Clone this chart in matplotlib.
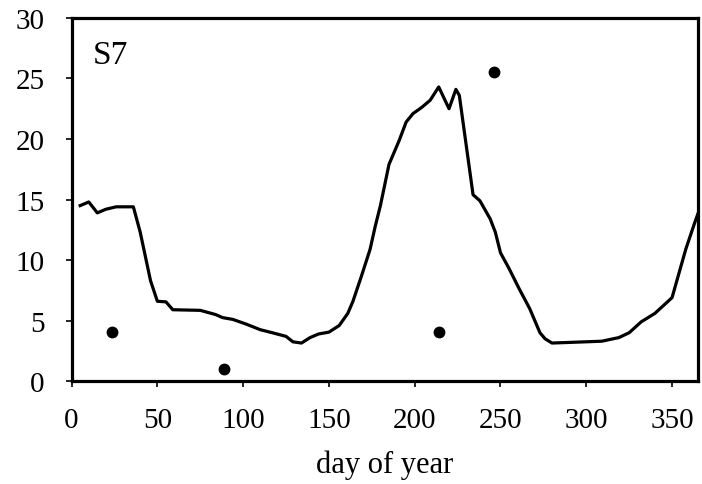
import matplotlib
matplotlib.use('Agg')
from matplotlib import pyplot as plt

# line: day of year vs value
days = [5, 10, 15, 20, 26, 36, 40, 46, 50, 55, 59, 75, 84, 88, 94, 102, 110, 117,
        125, 129, 134, 139, 144, 150, 156, 161, 164, 169, 174, 177, 180, 185, 191,
        195, 199, 204, 209, 214, 220, 224, 226, 234, 238, 244, 247, 250, 255, 261,
        267, 273, 276, 280, 290, 309, 319, 325, 332, 340, 350, 358, 363, 365]
values = [14.5, 14.8, 13.9, 14.2, 14.4, 14.4, 12.3, 8.3, 6.6, 6.55, 5.9, 5.85, 5.5,
          5.25, 5.1, 4.7, 4.25, 4.0, 3.7, 3.25, 3.15, 3.6, 3.9, 4.05, 4.6, 5.6, 6.6,
          8.7, 10.9, 12.8, 14.5, 17.9, 19.9, 21.4, 22.1, 22.6, 23.2, 24.3, 22.5,
          24.1, 23.6, 15.4, 14.9, 13.4, 12.3, 10.6, 9.3, 7.6, 6.0, 4.0, 3.5, 3.15,
          3.2, 3.3, 3.6, 4.0, 4.9, 5.6, 6.9, 10.9, 13.0, 13.8]

# observed points
obs_days = [23.5, 88.7, 214, 246]
obs_values = [4.05, 1.0, 4.1, 25.5]

plt.rcParams['font.family'] = ['Liberation Serif', 'DejaVu Serif']
plt.rcParams['font.size'] = 21

fig = plt.figure(figsize=(7.02, 4.85), dpi=100)
ax = fig.add_axes([0.102, 0.212, 0.892, 0.749])

ax.plot(days, values, color='black', linewidth=2.3)
ax.plot(obs_days, obs_values, 'o', color='black', markersize=7.5, clip_on=False)

ax.set_xlim(0, 365)
ax.set_ylim(0, 30)
ax.set_xticks(range(0, 351, 50))
ax.set_yticks(range(0, 31, 5))
ax.tick_params(direction='out', length=4.5, width=1.2)
ax.tick_params(axis='x', pad=14)
ax.tick_params(axis='y', pad=15)
for s in ax.spines.values():
    s.set_linewidth(2.3)

ax.set_xlabel('day of year', fontsize=22, labelpad=12)
ax.text(0.033, 0.94, 'S7', transform=ax.transAxes, va='top', ha='left', fontsize=24)

fig.savefig('out.png', dpi=100)
